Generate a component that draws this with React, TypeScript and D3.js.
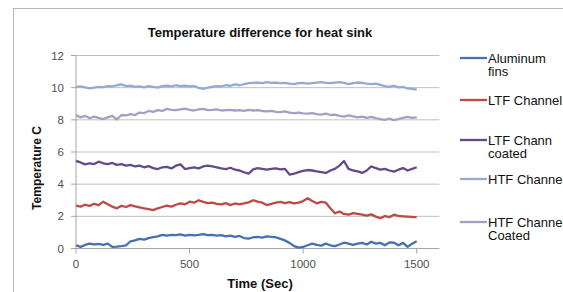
import * as d3 from "d3";

const W = 563;
const H = 292;

// sample interval of the logger (s)
const STEP = 20;

const aluminumFins = [
  0.2, 0.1, 0.22, 0.3, 0.25, 0.28, 0.22, 0.3, 0.1, 0.12,
  0.15, 0.2, 0.45, 0.5, 0.6, 0.55, 0.65, 0.7, 0.75, 0.85,
  0.8, 0.85, 0.83, 0.88, 0.8, 0.85, 0.82, 0.85, 0.9, 0.83,
  0.85, 0.8, 0.83, 0.75, 0.8, 0.72, 0.78, 0.65, 0.62, 0.7,
  0.72, 0.68, 0.75, 0.72, 0.7, 0.6, 0.5, 0.35, 0.15, 0.05,
  0.1, 0.2, 0.3, 0.22, 0.18, 0.3, 0.2, 0.15, 0.25, 0.36,
  0.3, 0.22, 0.3, 0.35, 0.25, 0.42, 0.3, 0.35, 0.2, 0.38,
  0.36, 0.2, 0.35, 0.1, 0.3, 0.45,
];

const ltfChannel = [
  2.66, 2.6, 2.72, 2.65, 2.78, 2.7, 2.91, 2.75, 2.6, 2.5,
  2.65, 2.58, 2.7, 2.62, 2.55, 2.5, 2.45, 2.39, 2.5, 2.58,
  2.66, 2.6, 2.72, 2.8, 2.75, 2.91, 2.85, 3.0, 2.9, 2.82,
  2.85, 2.78, 2.74, 2.82, 2.7, 2.8, 2.75, 2.8, 2.87, 3.0,
  2.92, 2.85, 2.7, 2.78, 2.85, 2.9, 2.82, 2.88, 2.8, 2.85,
  2.95, 3.12, 2.95, 2.81, 2.9, 2.85, 2.5, 2.19, 2.3, 2.15,
  2.1, 2.2, 2.15, 2.1, 2.05, 2.12, 1.98, 1.88, 2.02, 1.95,
  2.1, 2.02, 2.0, 1.98, 1.96, 1.95,
];

const ltfCoated = [
  5.45, 5.35, 5.23, 5.3, 5.25, 5.4, 5.3, 5.25, 5.32, 5.2,
  5.25, 5.15, 5.2, 5.1, 5.15, 5.05, 5.12, 5.0, 4.94, 5.05,
  5.08, 4.98, 5.15, 5.23, 4.94, 5.0, 5.05, 4.98, 5.1, 5.15,
  5.1, 5.05, 4.98, 4.94, 5.02, 4.9, 4.85, 4.74, 4.65, 4.92,
  5.0, 4.95, 4.9, 4.95, 4.98, 4.92, 4.95, 4.6, 4.65, 4.75,
  4.82, 4.88, 4.85, 4.8, 4.75, 4.7, 4.85, 4.95, 5.15, 5.44,
  4.95, 4.85, 4.8, 4.7, 4.85, 5.1, 5.0, 4.9, 4.95, 4.85,
  4.78, 4.9, 5.0, 4.85, 4.95, 5.05,
];

const htfChannel = [
  10.05, 10.08, 10.02, 9.95, 10.0, 10.05, 10.03, 10.1, 10.08, 10.15,
  10.2, 10.1, 10.12, 10.05, 10.08, 10.02, 10.1, 10.05, 10.0, 10.1,
  10.12, 10.08, 10.15, 10.1, 10.12, 10.08, 10.1, 9.98, 9.92, 10.0,
  10.05, 10.1, 10.08, 10.15, 10.12, 10.2, 10.15, 10.22, 10.28, 10.3,
  10.32, 10.28, 10.35, 10.3, 10.32, 10.28, 10.3, 10.25, 10.22, 10.28,
  10.3, 10.25, 10.28, 10.32, 10.35, 10.3, 10.28, 10.32, 10.35, 10.3,
  10.22, 10.28, 10.32, 10.3, 10.25, 10.22, 10.25, 10.18, 10.1, 10.05,
  10.12, 10.02, 10.05, 9.95, 9.92, 9.88,
];

const htfCoated = [
  8.3, 8.15, 8.25, 8.1, 8.2, 8.12, 8.05, 8.15, 8.25, 8.02,
  8.3, 8.28, 8.35, 8.3, 8.45, 8.42, 8.55, 8.5, 8.6, 8.55,
  8.68, 8.62, 8.6, 8.65, 8.7, 8.62, 8.58, 8.65, 8.68, 8.6,
  8.62, 8.65, 8.58, 8.6, 8.62, 8.58, 8.6, 8.55, 8.62, 8.58,
  8.6, 8.55, 8.52, 8.55, 8.5, 8.48, 8.52, 8.45, 8.42, 8.45,
  8.4, 8.38, 8.42, 8.35, 8.32, 8.38, 8.3, 8.32, 8.25, 8.2,
  8.28, 8.22, 8.15, 8.2, 8.12, 8.18, 8.1, 8.05, 8.0, 8.08,
  7.98, 8.05, 8.12, 8.18, 8.12, 8.15,
];

const yTicks = [0, 2, 4, 6, 8, 10, 12];
const xTicks = [0, 500, 1000, 1500];

const series = [
  { name: ["Aluminum", "fins"], values: aluminumFins, color: "#4471b0", ly: 58 },
  { name: ["LTF Channel"], values: ltfChannel, color: "#bd4a46", ly: 100 },
  { name: ["LTF Chann", "coated"], values: ltfCoated, color: "#614b8c", ly: 140 },
  { name: ["HTF Channel"], values: htfChannel, color: "#90acd6", ly: 179 },
  { name: ["HTF Channel", "Coated"], values: htfCoated, color: "#aa9cc4", ly: 222 },
];

const font = "'Liberation Sans', Arial, sans-serif";

export default function App() {
  const x = d3.scaleLinear().domain([0, 1600]).range([76, 439.4]);
  const y = d3.scaleLinear().domain([0, 12]).range([248.5, 55.5]);

  const line = d3
    .line<number>()
    .x((_, i) => x(i * STEP))
    .y((d) => y(d));

  return (
    <svg
      width={W}
      height={H}
      style={{ position: "absolute", left: 0, top: 0, background: "#fff" }}
      fontFamily={font}
    >
      <rect x={13.5} y={8.5} width={600} height={400} fill="#fff" stroke="#b8b8b8" />

      <text x={260} y={37} textAnchor="middle" fontSize={13} fontWeight="bold" fill="#111">
        Temperature difference for heat sink
      </text>

      {/* gridlines */}
      {yTicks.map((t) => (
        <g key={t}>
          <line x1={x(0)} x2={x(1600)} y1={y(t)} y2={y(t)} stroke={t === 0 ? "#a6a6a6" : "#bfbfbf"} />
          <line x1={x(0) - 5} x2={x(0)} y1={y(t)} y2={y(t)} stroke="#a6a6a6" />
          <text x={64} y={y(t) + 4} textAnchor="end" fontSize={11.5} fill="#505050">
            {t}
          </text>
        </g>
      ))}
      <line x1={x(0)} x2={x(0)} y1={y(12)} y2={y(0)} stroke="#a6a6a6" />
      {xTicks.map((t) => (
        <g key={t}>
          <line x1={x(t)} x2={x(t)} y1={y(0)} y2={y(0) + 5} stroke="#a6a6a6" />
          <text x={x(t)} y={268} textAnchor="middle" fontSize={11.5} fill="#505050">
            {t}
          </text>
        </g>
      ))}

      <text
        transform="translate(41,168) rotate(-90)"
        textAnchor="middle"
        fontSize={12}
        fontWeight="bold"
        fill="#111"
      >
        Temperature C
      </text>
      <text x={260} y={288} textAnchor="middle" fontSize={13} fontWeight="bold" fill="#111">
        Time (Sec)
      </text>

      {series.map((s) => (
        <path
          key={s.name.join(" ")}
          d={line(s.values) ?? ""}
          fill="none"
          stroke={s.color}
          strokeWidth={2.3}
          strokeLinejoin="round"
        />
      ))}

      {series.map((s) => (
        <g key={"lg" + s.name.join(" ")}>
          <line x1={460} x2={487} y1={s.ly} y2={s.ly} stroke={s.color} strokeWidth={2.3} />
          {s.name.map((n, i) => (
            <text key={n} x={488} y={s.ly + 4.5 + i * 13.5} fontSize={13} fill="#111">
              {n}
            </text>
          ))}
        </g>
      ))}
    </svg>
  );
}
